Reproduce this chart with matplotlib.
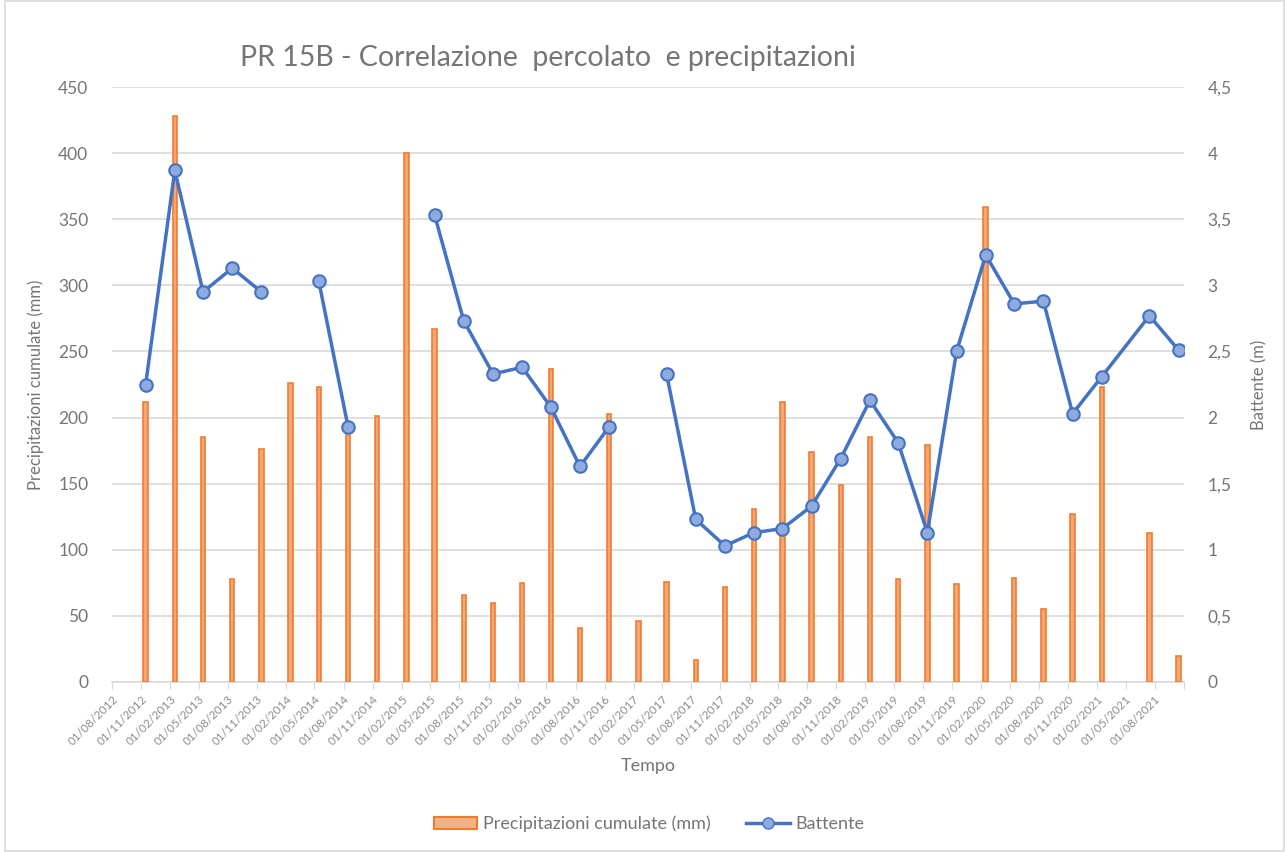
import matplotlib
matplotlib.use("Agg")
import matplotlib.pyplot as plt
from matplotlib.patches import Rectangle, Patch
from matplotlib.lines import Line2D
import numpy as np
import pandas as pd

plt.rcParams["font.family"] = ["Lato", "DejaVu Sans"]

# date di misura (circa metà mese, trimestrali)
dates = [
    "2012-11-15", "2013-02-15", "2013-05-15", "2013-08-15", "2013-11-15",
    "2014-02-15", "2014-05-15", "2014-08-15", "2014-11-15", "2015-02-15",
    "2015-05-15", "2015-08-15", "2015-11-15", "2016-02-15", "2016-05-15",
    "2016-08-15", "2016-11-15", "2017-02-15", "2017-05-15", "2017-08-15",
    "2017-11-15", "2018-02-15", "2018-05-15", "2018-08-15", "2018-11-15",
    "2019-02-15", "2019-05-15", "2019-08-15", "2019-11-15", "2020-02-15",
    "2020-05-15", "2020-08-15", "2020-11-15", "2021-02-15", "2021-07-15",
    "2021-10-15",
]
precip = [
    212, 428, 185, 78, 176, 226, 223, 190, 201, 400,
    267, 66, 60, 75, 237, 41, 203, 46, 76, 17,
    72, 131, 212, 174, 149, 185, 78, 179, 74, 359,
    79, 55, 127, 223, 113, 20,
]
battente = [
    2.25, 3.87, 2.95, 3.13, 2.95, np.nan, 3.03, 1.93, np.nan, np.nan,
    3.53, 2.73, 2.33, 2.38, 2.08, 1.63, 1.93, np.nan, 2.33, 1.23,
    1.03, 1.13, 1.16, 1.33, 1.69, 2.13, 1.81, 1.13, 2.50, 3.23,
    2.86, 2.88, 2.03, 2.31, 2.77, 2.51,
]

x = pd.to_datetime(dates)
ticks = pd.date_range("2012-08-01", "2021-11-01", freq="3MS")

GRAY = "#757575"
ORANGE = "#ED7D31"
BLUE = "#4472C4"

fig = plt.figure(figsize=(12.85, 8.52), dpi=100)
ax = fig.add_axes([112 / 1285, 1 - 682 / 852, (1184 - 112) / 1285, (682 - 87) / 852])
ax2 = ax.twinx()

ax.bar(x, precip, width=14, facecolor="#F4A774", edgecolor=ORANGE, linewidth=1.2, zorder=3)

# linea con interruzioni dove mancano i dati
ax2.plot(x, battente, color=BLUE, linewidth=2.5, marker="o", markersize=9,
         markerfacecolor="#8FAADC", markeredgecolor=BLUE, markeredgewidth=1.5, zorder=4)

ax.set_xlim(ticks[0], ticks[-1])
ax.set_ylim(0, 450)
ax2.set_ylim(0, 4.5)
ax.set_yticks(np.arange(0, 451, 50))
ax2.set_yticks(np.arange(0, 4.51, 0.5))
ax2.set_yticklabels([f"{v:g}".replace(".", ",") for v in np.arange(0, 4.51, 0.5)])

ax.set_xticks(ticks)
ax.set_xticklabels([d.strftime("%d/%m/%Y") for d in ticks[:-1]] + [""],
                   rotation=45, ha="right", rotation_mode="anchor", fontsize=8.5, color="#8C8C8C")

ax.grid(axis="y", color="#D9D9D9", linewidth=1.2, zorder=0)
ax.set_axisbelow(True)
for a in (ax, ax2):
    for sp in a.spines.values():
        sp.set_visible(False)
ax.spines["bottom"].set_visible(True)
ax.spines["bottom"].set_color("#D9D9D9")
ax.spines["bottom"].set_linewidth(1.2)
ax.tick_params(axis="x", length=5, color="#D9D9D9", pad=3)
ax.tick_params(axis="y", length=0, labelsize=12.5, labelcolor=GRAY, pad=17)
ax2.tick_params(axis="y", length=0, labelsize=12.5, labelcolor=GRAY, pad=17)

ax.set_ylabel("Precipitazioni cumulate (mm)", fontsize=12, color=GRAY, labelpad=10)
ax2.set_ylabel("Battente (m)", fontsize=12, color=GRAY, labelpad=14)
ax.set_xlabel("Tempo", fontsize=13, color=GRAY, labelpad=8)

fig.text(0.4265, 0.932, "PR 15B - Correlazione  percolato  e precipitazioni",
         ha="center", va="center", fontsize=20.5, color=GRAY)

handles = [
    Patch(facecolor="#F4B183", edgecolor=ORANGE, linewidth=1.5),
    Line2D([], [], color=BLUE, linewidth=2.5, marker="o", markersize=8,
           markerfacecolor="#8FAADC", markeredgecolor=BLUE),
]
fig.legend(handles, ["Precipitazioni cumulate (mm)", "Battente"], loc="center",
           bbox_to_anchor=(0.505, 1 - 824 / 852), ncol=2, frameon=False,
           fontsize=13, labelcolor=GRAY, handlelength=2.4, handletextpad=0.3,
           columnspacing=2.0)

fig.patches.append(Rectangle((5 / 1285, 0.001), 1 - 6 / 1285, 0.998, transform=fig.transFigure,
                             fill=False, edgecolor="#D9D9D9", linewidth=1.2))

fig.savefig("out.png", dpi=100)
